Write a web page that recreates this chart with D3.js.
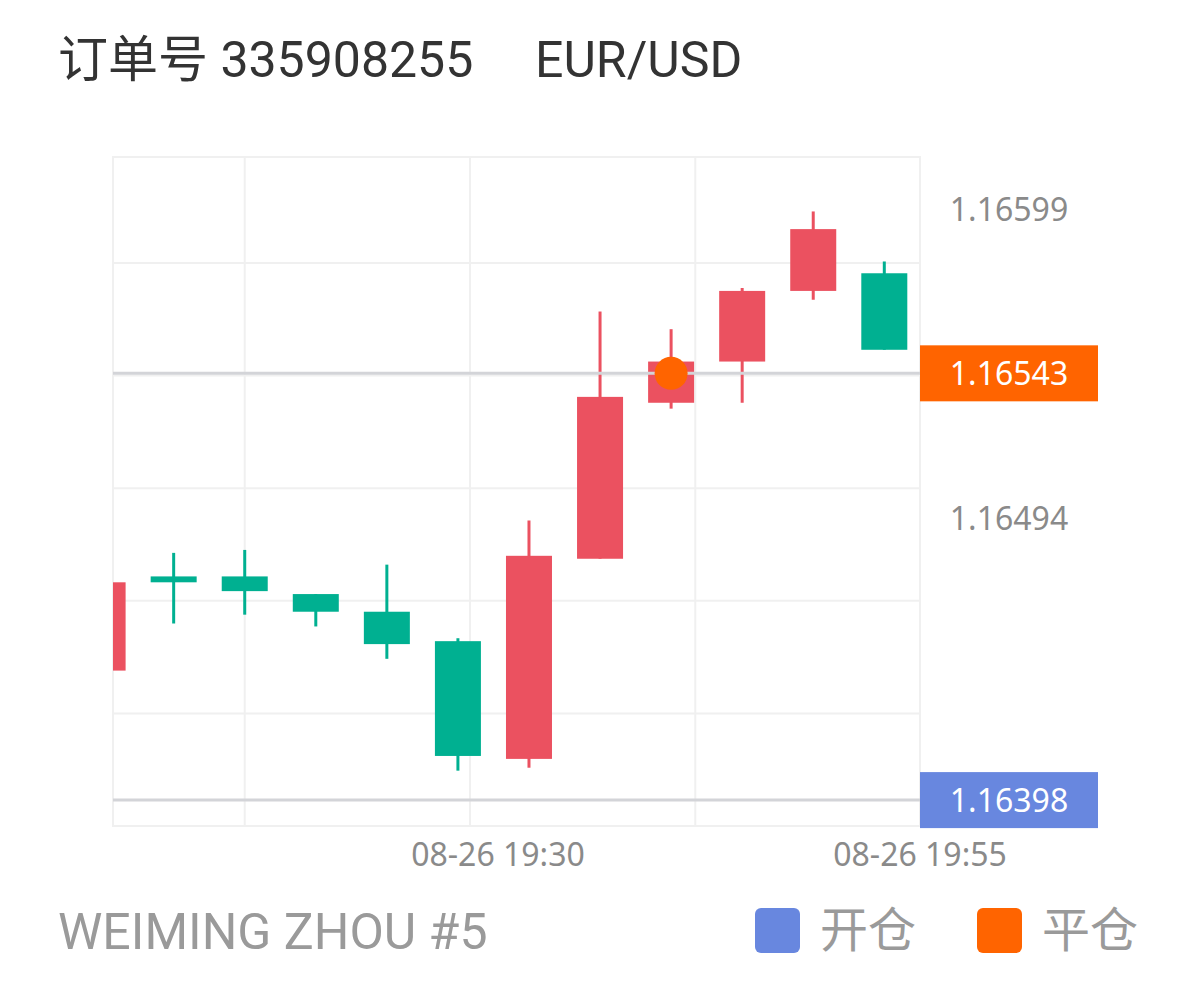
<!DOCTYPE html>
<html>
<head>
<meta charset="utf-8">
<script src="https://cdn.jsdelivr.net/npm/d3@7"></script>
<style>
  html, body { margin: 0; padding: 0; background: #fff; }
  svg { display: block; }
</style>
</head>
<body>
<svg id="chart" width="1198" height="990"></svg>
<script>
// ---- data ----
const titleOrder = "订单号 335908255";
const titleSymbol = "EUR/USD";
const footerName = "WEIMING ZHOU #5";
const legendLabels = ["开仓", "平仓"];

const candleOpen  = [1.16442, 1.16474, 1.16474, 1.16468, 1.16462, 1.16452, 1.16412, 1.16480, 1.16533, 1.16547, 1.16571, 1.16577];
const candleClose = [1.16472, 1.16472, 1.16469, 1.16462, 1.16451, 1.16413, 1.16481, 1.16535, 1.16547, 1.16571, 1.16592, 1.16551];
const candleHigh  = [1.16472, 1.16482, 1.16483, 1.16468, 1.16478, 1.16453, 1.16493, 1.16564, 1.16558, 1.16572, 1.16598, 1.16581];
const candleLow   = [1.16442, 1.16458, 1.16461, 1.16457, 1.16446, 1.16408, 1.16409, 1.16480, 1.16531, 1.16533, 1.16568, 1.16551];

const yTickValues = [1.16599, 1.16494];
const openPrice = 1.16398;
const closePrice = 1.16543;
const closeIndex = 8;

const xTickLabels = ["08-26 19:30", "08-26 19:55"];
const xTickIndex = [5.564, 11.503];
const xGridIndex = [2.0, 5.17, 8.34];
const yDomain = [1.163892, 1.166165];
const yGridStep = 0.0003826;

// ---- layout ----
const plot = { left: 113, right: 920, top: 157, bottom: 826 };
const colors = { up: "#eb5160", down: "#00b091", open: "#6887df", close: "#ff6400", grid: "#f0f0f0", priceLine: "#d3d4d8" };

const svg = d3.select("#chart");

const x = d3.scaleLinear().domain([0, 11]).range([102.6, 884.3]);
const y = d3.scaleLinear().domain(yDomain).range([plot.bottom, plot.top]);

// title
svg.append("text").attr("x", 58).attr("y", 77)
  .attr("font-family", "Roboto, 'Noto Sans CJK SC', sans-serif").attr("font-size", 50).attr("fill", "#333")
  .text(titleOrder);
svg.append("text").attr("x", 535).attr("y", 77)
  .attr("font-family", "Roboto, sans-serif").attr("font-size", 50).attr("fill", "#333")
  .text(titleSymbol);

// grid
const gridG = svg.append("g").attr("stroke", colors.grid).attr("stroke-width", 2).attr("fill", "none");
const yGrid = d3.range(yDomain[0] + yGridStep, yDomain[1], yGridStep);
gridG.selectAll("line.h").data(yGrid).join("line").attr("class", "h")
  .attr("x1", plot.left).attr("x2", plot.right).attr("y1", d => y(d)).attr("y2", d => y(d));
gridG.selectAll("line.v").data(xGridIndex).join("line").attr("class", "v")
  .attr("x1", d => x(d)).attr("x2", d => x(d)).attr("y1", plot.top).attr("y2", plot.bottom);
gridG.append("rect").attr("x", plot.left).attr("y", plot.top)
  .attr("width", plot.right - plot.left).attr("height", plot.bottom - plot.top);

// candles
svg.append("defs").append("clipPath").attr("id", "clip").append("rect")
  .attr("x", plot.left).attr("y", plot.top).attr("width", plot.right - plot.left).attr("height", plot.bottom - plot.top);

const candles = candleOpen.map((o, i) => ({ i, o, c: candleClose[i], h: candleHigh[i], l: candleLow[i] }));
const cg = svg.append("g").attr("clip-path", "url(#clip)");
const bodyW = 46;
const g = cg.selectAll("g.c").data(candles).join("g").attr("class", "c");
g.append("line")
  .attr("x1", d => x(d.i)).attr("x2", d => x(d.i))
  .attr("y1", d => y(d.h)).attr("y2", d => y(d.l))
  .attr("stroke", d => d.c >= d.o ? colors.up : colors.down).attr("stroke-width", 3);
g.append("rect")
  .attr("x", d => x(d.i) - bodyW / 2).attr("width", bodyW)
  .attr("y", d => y(Math.max(d.o, d.c)))
  .attr("height", d => Math.max(4, Math.abs(y(d.o) - y(d.c))))
  .attr("fill", d => d.c >= d.o ? colors.up : colors.down);

// price lines
[openPrice, closePrice].forEach(p => {
  svg.append("line").attr("x1", plot.left).attr("x2", plot.right)
    .attr("y1", y(p)).attr("y2", y(p))
    .attr("stroke", colors.priceLine).attr("stroke-width", 3);
});

// close marker
svg.append("circle").attr("cx", x(closeIndex)).attr("cy", y(closePrice)).attr("r", 16.5).attr("fill", colors.close);

// y labels
const labelCx = 1009;
svg.selectAll("text.yt").data(yTickValues).join("text").attr("class", "yt")
  .attr("x", labelCx).attr("y", d => y(d) + 12)
  .attr("text-anchor", "middle").attr("font-family", "'Noto Sans', sans-serif").attr("font-size", 32)
  .attr("fill", "#8a8a8a").text(d => d.toFixed(5));

[[closePrice, colors.close], [openPrice, colors.open]].forEach(([p, col]) => {
  svg.append("rect").attr("x", plot.right).attr("y", y(p) - 28).attr("width", 178).attr("height", 56).attr("fill", col);
  svg.append("text").attr("x", labelCx).attr("y", y(p) + 12)
    .attr("text-anchor", "middle").attr("font-family", "'Noto Sans', sans-serif").attr("font-size", 32)
    .attr("fill", "#fff").text(p.toFixed(5));
});

// x labels
svg.selectAll("text.xt").data(xTickLabels).join("text").attr("class", "xt")
  .attr("x", (d, i) => x(xTickIndex[i])).attr("y", 866)
  .attr("text-anchor", "middle").attr("font-family", "'Noto Sans', sans-serif").attr("font-size", 32)
  .attr("fill", "#8a8a8a").text(d => d);

// footer
svg.append("text").attr("x", 58).attr("y", 949)
  .attr("font-family", "Roboto, sans-serif").attr("font-size", 50).attr("fill", "#9a9a9a")
  .text(footerName);

const legendX = [755, 977];
const legendCol = [colors.open, colors.close];
legendLabels.forEach((t, i) => {
  svg.append("rect").attr("x", legendX[i]).attr("y", 908).attr("width", 45).attr("height", 45).attr("rx", 6).attr("fill", legendCol[i]);
  svg.append("text").attr("x", legendX[i] + 65).attr("y", 947)
    .attr("font-family", "'Noto Sans CJK SC', sans-serif").attr("font-size", 48).attr("fill", "#9a9a9a")
    .text(t);
});
</script>
</body>
</html>
